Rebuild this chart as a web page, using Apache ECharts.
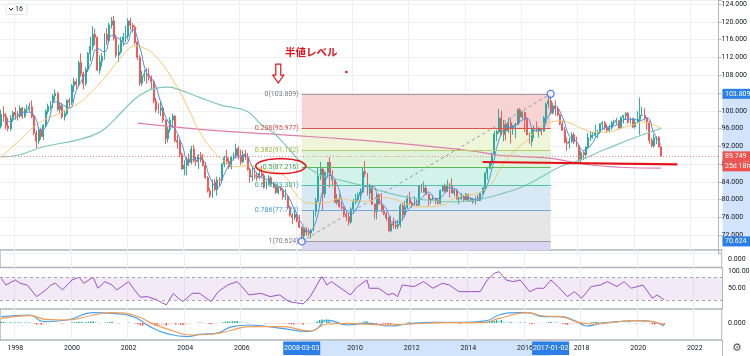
<!DOCTYPE html>
<html><head><meta charset="utf-8">
<script src="https://cdn.jsdelivr.net/npm/echarts@6/dist/echarts.min.js"></script>
<style>html,body{margin:0;padding:0;background:#fff}#c{width:750px;height:356px}</style>
</head><body><div id="c"></div>
<script>
// ---------------- DATA ----------------
// monthly categories Jul 1997 .. Dec 2022
const startYear = 1997, startMonth = 7, monthCount = 306;
const months = [];
for (let i = 0; i < monthCount; i++) {
  const m = startMonth - 1 + i, y = startYear + Math.floor(m / 12), mm = m % 12 + 1;
  months.push(y + '-' + (mm < 10 ? '0' : '') + mm);
}
// monthly OHLC [open, high, low, close], Jul 1997 .. Dec 2020
const ohlc = [
[96.5,100.2,96.0,99.2],[99.2,101.0,97.5,98.8],[98.8,99.5,95.8,96.6],[96.6,98.4,95.4,96.0],[96.0,99.0,95.5,98.3],[98.3,100.0,97.5,99.6],
[99.6,100.8,98.0,99.0],[99.0,99.9,97.8,98.8],[98.8,101.2,98.3,100.6],[100.6,100.9,98.2,98.7],[98.7,100.6,98.4,100.2],[100.2,101.4,99.5,100.4],[100.4,101.8,99.8,100.9],[100.9,102.3,98.3,98.7],[98.7,99.0,94.5,95.0],[95.0,95.6,91.6,93.2],[93.2,96.3,92.6,95.8],[95.8,96.2,93.5,94.2],
[94.2,97.0,93.4,96.7],[96.7,100.3,96.2,99.9],[99.9,101.6,99.2,101.0],[101.0,102.2,100.1,101.8],[101.8,103.8,100.6,103.3],[103.3,104.8,102.2,103.9],[103.9,104.2,99.9,100.3],[100.3,102.0,99.5,101.1],[101.1,101.8,98.2,98.6],[98.6,100.0,97.8,99.3],[99.3,102.6,99.0,102.3],[102.3,102.9,100.8,101.9],
[101.9,106.0,101.3,105.6],[105.6,107.4,104.2,106.6],[106.6,107.2,104.9,105.9],[105.9,111.3,105.4,110.8],[110.8,112.9,107.6,108.3],[108.3,108.8,104.8,106.1],[106.1,109.8,105.6,109.3],[109.3,113.2,108.7,112.9],[112.9,116.6,111.2,114.5],[114.5,119.0,113.6,117.2],[117.2,118.4,114.8,116.5],[116.5,116.7,108.9,109.1],
[109.1,112.5,108.2,111.1],[111.1,113.0,109.9,112.2],[112.2,117.5,111.5,117.2],[117.2,118.6,114.8,115.8],[115.8,119.8,115.2,119.3],[119.3,121.1,118.5,120.2],[120.2,121.3,115.8,116.3],[116.3,117.1,111.9,112.5],[112.5,114.8,111.0,113.2],[113.2,116.6,112.8,115.8],[115.8,117.5,114.6,116.6],[116.6,119.1,115.4,116.8],
[116.8,120.8,116.0,120.2],[120.2,120.9,118.2,119.2],[119.2,119.7,117.6,118.8],[118.8,119.2,114.9,115.4],[115.4,115.8,111.4,112.0],[112.0,112.5,105.6,106.2],[106.2,109.0,105.5,107.7],[107.7,109.2,106.7,108.2],[108.2,109.6,106.1,108.0],[108.0,109.5,106.8,107.6],[107.6,107.9,104.7,106.6],[106.6,107.0,101.7,102.2],
[102.2,102.9,99.6,100.2],[100.2,101.7,99.3,100.1],[100.1,102.2,98.8,100.6],[100.6,101.1,97.3,97.9],[97.9,98.1,92.5,93.7],[93.7,96.3,92.9,95.8],[95.8,98.6,95.1,97.9],[97.9,99.4,96.2,98.8],[98.8,99.0,92.9,93.3],[93.3,94.5,91.5,92.9],[92.9,93.5,89.6,90.2],[90.2,90.6,86.7,86.9],
[86.9,88.9,85.5,87.8],[87.8,89.6,85.5,89.1],[89.1,90.4,87.5,88.4],[88.4,92.1,87.9,91.4],[91.4,92.3,88.3,88.8],[88.8,89.7,87.6,88.6],[88.6,90.3,86.9,89.9],[89.9,90.7,88.4,89.0],[89.0,90.3,87.5,87.7],[87.7,88.5,84.7,85.0],[85.0,85.3,81.6,82.0],[82.0,82.6,80.4,80.9],
[80.9,84.5,80.4,84.0],[84.0,84.7,81.9,82.3],[82.3,85.2,80.9,84.5],[84.5,85.1,83.0,84.4],[84.4,88.2,83.7,88.0],[88.0,89.9,87.3,89.5],[89.5,91.2,87.9,88.6],[88.6,89.4,86.9,87.4],[87.4,89.9,86.8,89.6],[89.6,90.6,88.8,89.9],[89.9,92.6,89.3,91.5],[91.5,92.1,89.0,89.9],
[89.9,91.3,87.8,88.5],[88.5,91.1,88.2,90.2],[90.2,91.2,88.9,89.6],[89.6,90.5,86.5,86.8],[86.8,87.2,83.8,85.1],[85.1,87.4,84.1,85.4],[85.4,87.2,84.6,85.3],[85.3,86.2,84.2,85.0],[85.0,86.9,84.6,85.9],[85.9,87.6,85.0,85.4],[85.4,85.9,82.5,82.8],[82.8,84.3,82.3,83.7],
[83.7,85.5,83.2,84.9],[84.9,85.3,83.2,83.6],[83.6,84.0,82.6,82.9],[82.9,83.2,81.3,81.6],[81.6,82.9,81.2,82.7],[82.7,83.0,81.9,82.2],[82.2,82.6,80.0,80.7],[80.7,82.4,79.9,80.8],[80.8,81.0,77.9,78.2],[78.2,78.7,76.2,76.5],[76.5,77.0,74.5,76.0],[76.0,77.6,75.5,76.7],
[76.7,77.1,74.9,75.2],[75.2,76.6,73.7,73.8],[73.8,74.0,70.624,71.9],[71.9,73.7,71.3,73.3],[73.3,73.9,71.9,72.7],[72.7,73.5,71.9,72.5],[72.5,73.4,71.3,73.2],[73.2,77.7,72.9,77.3],[77.3,80.4,76.2,79.7],[79.7,87.2,79.5,85.3],[85.3,88.5,84.4,86.9],[86.9,87.3,77.7,81.3],
[81.3,86.4,80.4,86.1],[86.1,88.5,85.0,88.4],[88.4,89.6,82.7,85.4],[85.4,86.6,83.0,84.4],[84.4,84.6,79.2,79.4],[79.4,81.3,78.9,80.1],[80.1,81.2,78.3,78.4],[78.4,79.6,77.7,78.3],[78.3,78.5,76.1,76.7],[76.7,77.4,75.2,76.2],[76.2,76.8,74.2,75.0],[75.0,78.3,74.6,77.9],
[77.9,80.2,76.9,79.5],[79.5,81.3,78.9,80.1],[80.1,81.6,79.4,81.0],[81.0,82.6,80.0,81.7],[81.7,87.3,81.6,86.3],[86.3,88.7,85.1,85.9],[85.9,86.0,80.9,81.5],[81.5,83.6,80.1,83.0],[83.0,83.2,78.8,79.0],[79.0,79.2,75.6,77.3],[77.3,81.4,75.6,81.0],[81.0,81.4,78.9,79.0],
[79.0,81.4,77.2,77.4],[77.4,78.6,76.5,76.8],[76.8,77.3,75.3,75.9],[75.9,76.1,72.9,73.0],[73.0,76.4,72.7,74.6],[74.6,76.0,73.5,74.3],[74.3,75.4,73.4,74.0],[74.0,75.5,73.4,74.4],[74.4,79.1,73.8,78.6],[78.6,79.3,75.3,76.6],[76.6,79.8,76.2,78.3],[78.3,81.0,77.9,80.2],
[80.2,81.8,78.9,79.3],[79.3,79.6,78.1,78.8],[78.8,80.8,78.6,79.0],[79.0,80.0,78.5,78.8],[78.8,83.2,78.7,83.1],[83.1,83.6,81.6,81.7],[81.7,84.1,81.6,82.6],[82.6,83.1,81.1,81.2],[81.2,81.4,78.6,79.9],[79.9,80.3,79.1,80.1],[80.1,81.1,79.9,80.2],[80.2,80.5,79.0,79.8],
[79.8,80.4,78.9,79.2],[79.2,82.3,79.0,82.1],[82.1,83.2,81.7,83.0],[83.0,83.6,81.6,81.9],[81.9,84.5,81.7,83.3],[83.3,83.7,80.5,83.2],[83.2,84.8,81.4,81.5],[81.5,82.7,80.8,82.1],[82.1,82.5,80.0,80.2],[80.2,80.7,79.0,80.2],[80.2,81.5,80.0,80.7],[80.7,81.1,79.7,80.0],
[80.0,81.5,80.0,81.2],[81.2,81.4,79.7,79.7],[79.7,80.6,79.5,80.1],[80.1,80.4,79.1,79.5],[79.5,80.8,78.9,80.4],[80.4,81.1,79.7,79.8],[79.8,81.5,79.8,81.5],[81.5,82.8,81.3,82.7],[82.7,86.1,82.5,86.0],[86.0,87.4,84.5,87.0],[87.0,88.6,86.9,88.4],[88.4,90.6,87.8,90.3],
[90.3,95.5,90.2,94.8],[94.8,95.7,93.2,95.3],[95.3,100.4,94.9,98.4],[98.4,100.0,94.5,94.6],[94.6,97.9,93.1,96.9],[96.9,97.5,93.3,95.5],[95.5,98.3,95.0,97.3],[97.3,98.3,92.6,96.0],[96.0,96.8,94.6,96.4],[96.4,97.3,93.8,96.9],[96.9,100.5,96.8,100.2],[100.2,100.6,97.2,98.6],
[98.6,100.0,98.1,99.6],[99.6,99.8,95.2,98.2],[98.2,98.6,94.5,94.6],[94.6,95.1,92.6,93.1],[93.1,96.0,92.0,95.9],[95.9,96.7,93.8,96.1],[96.1,97.6,95.2,95.5],[95.5,96.3,94.0,95.9],[95.9,96.0,94.5,95.4],[95.4,98.8,95.3,98.4],[98.4,101.8,96.9,101.5],[101.5,103.6,100.6,102.2],
[102.2,103.809,99.2,99.5],[99.5,101.8,99.2,101.1],[101.1,102.3,98.9,100.4],[100.4,101.0,98.8,99.1],[99.1,99.4,96.8,97.0],[97.0,97.8,95.5,95.6],[95.6,96.3,92.7,92.9],[92.9,94.0,91.0,92.7],[92.7,93.9,91.5,93.1],[93.1,95.2,92.8,94.6],[94.6,95.1,92.5,93.0],[93.0,94.2,91.8,92.1],
[92.1,92.4,88.4,89.1],[89.1,91.0,88.25,90.6],[90.6,90.9,88.9,90.1],[90.1,92.0,89.2,91.8],[91.8,95.0,91.4,94.0],[94.0,95.5,93.2,94.5],[94.5,95.2,93.7,94.5],[94.5,96.9,94.1,95.1],[95.1,95.7,93.8,95.1],[95.1,97.2,94.8,97.1],[97.1,97.7,95.7,97.3],[97.3,97.7,95.7,96.2],
[96.2,96.9,95.0,95.6],[95.6,96.9,95.2,96.2],[96.2,97.7,95.7,97.3],[97.3,98.0,96.7,97.5],[97.5,98.4,96.9,97.8],[97.8,97.9,95.8,96.1],[96.1,98.7,95.9,98.5],[98.5,99.1,97.1,98.9],[98.9,99.7,97.9,99.4],[99.4,99.7,97.1,97.4],[97.4,98.5,97.0,98.3],[98.3,98.4,96.1,96.4],
[96.4,98.2,96.0,97.4],[97.4,99.9,97.3,98.1],[98.1,103.0,94.6,99.0],[99.0,100.9,98.8,99.0],[99.0,100.6,97.8,98.3],[98.3,98.6,95.7,97.4],[97.4,97.8,92.6,93.3],[93.3,93.9,91.8,92.1],[92.1,94.7,91.7,93.9],[93.9,94.3,92.5,94.0],[94.0,94.3,91.7,91.9],[91.9,92.0,89.6,89.749]
];
// short moving average (blue), quarterly readings from Sep 1997
const maBlueStart = '1997-09', maBlueStep = 3;
const maBlue = [97.5,97.9, 99.3,99.7,99.0,95.4, 97.5,102.0,101.4,100.6, 104.5,107.5,110.2,114.0, 113.2,116.9,116.3,115.0, 118.3,114.3,108.4,106.5, 101.9,97.6,95.9,92.4, 88.5,89.3,88.8,84.9, 82.7,85.7,88.6,89.7, 89.9,87.4,85.3,84.6, 83.6,82.6,80.9,77.6, 74.7,72.8,75.1,82.1, 85.6,83.5,78.6,76.8, 78.7,83.0,83.1,79.9, 78.0,74.9,75.2,77.6, 79.1,80.3,81.7,80.2, 80.9,82.7,82.1,80.6, 80.3,79.9,82.1,86.9, 93.4,96.1,96.4,97.6, 98.2,95.6,95.8,98.7, 100.9,98.6,94.3,93.1, 91.0,92.2,94.6,96.2, 96.5,97.0,98.1,98.1, 97.8,98.4,95.0,92.3];
// medium MA (yellow)
const maYellow = [['1997-07',89.6],['1998-03',93.4],['1998-11',97.2],['1999-08',99.5],['2000-04',101.7],['2000-08',103.5],['2001-01',106.2],['2001-05',108.7],['2001-09',111.4],['2002-01',113.7],['2002-04',114.6],['2002-07',114.3],['2003-01',112.1],['2003-09',106.2],['2004-03',100.2],['2004-07',95.7],['2005-01',91.2],['2005-07',88.3],['2005-12',87.4],['2006-04',87.8],['2006-07',87.4],['2007-02',86.3],['2007-07',85.6],['2008-01',81.0],['2008-07',79.2],['2009-01',79.3],['2009-07',80.2],['2010-01',79.8],['2010-07',79.6],['2011-01',80.5],['2011-07',80.0],['2012-01',78.8],['2012-07',78.4],['2013-03',78.8],['2013-08',80.4],['2014-03',81.1],['2014-07',81.7],['2014-12',83.8],['2015-04',87.4],['2015-10',91.2],['2016-03',93.4],['2016-07',95.7],['2017-01',97.5],['2017-05',97.7],['2017-09',97.3],['2018-02',96.1],['2018-08',95.2],['2019-01',95.2],['2019-07',96.1],['2019-12',96.8],['2020-05',97.5],['2020-09',96.8],['2020-12',96.1]];
// long MA (green)
const maGreen = [['1997-07',89.6],['1998-02',90.0],['1999-01',91.9],['2000-03',93.4],['2001-01',95.2],['2001-07',97.9],['2002-02',101.7],['2002-07',103.8],['2003-01',105.1],['2003-06',105.3],['2003-11',104.7],['2004-08',102.9],['2005-05',101.2],['2005-09',100.8],['2006-04',99.8],['2006-10',96.8],['2007-03',95.0],['2007-07',92.9],['2008-03',88.3],['2008-10',85.8],['2009-02',85.1],['2010-04',83.3],['2011-07',81.1],['2012-07',80.0],['2013-08',79.5],['2014-05',79.9],['2015-05',81.5],['2016-01',82.9],['2016-09',85.1],['2017-05',87.4],['2018-01',88.8],['2019-01',91.5],['2020-01',94.0],['2020-12',96.0]];
// very long MA (pink)
const maPink = [['2002-05',97.2],['2004-02',96.1],['2005-12',95.2],['2007-07',94.6],['2008-09',94.1],['2011-01',93.0],['2013-05',91.6],['2014-07',90.7],['2015-03',90.0],['2016-01',89.7],['2017-01',89.3],['2017-09',88.6],['2018-06',87.8],['2019-06',87.3],['2020-12',87.1]];
// RSI
const rsi = [['1997-07',68.3],['1997-09',56.5],['1998-01',65.3],['1998-03',59.5],['1998-06',56.5],['1998-10',35.9],['1998-12',41.8],['1999-02',47.7],['1999-04',56.5],['1999-06',59.5],['1999-09',47.7],['1999-11',56.5],['2000-01',65.3],['2000-04',70.1],['2000-06',59.5],['2000-10',70.1],['2000-12',50.7],['2001-03',62.4],['2001-06',56.5],['2001-08',47.7],['2002-01',62.4],['2002-03',50.7],['2002-06',34.8],['2002-09',35.9],['2003-01',30.1],['2003-05',21.3],['2003-08',41.8],['2003-10',33.1],['2003-12',27.1],['2004-04',41.8],['2004-07',41.8],['2004-12',27.1],['2005-03',44.7],['2005-07',56.5],['2005-11',62.4],['2006-01',53.6],['2006-04',38.9],['2006-09',41.8],['2007-01',35.9],['2007-05',38.9],['2007-09',27.1],['2008-03',23.0],['2008-06',35.9],['2008-10',65.3],['2008-11',71.2],['2009-01',56.5],['2009-03',62.4],['2009-07',50.7],['2009-11',38.9],['2010-02',53.6],['2010-06',65.3],['2010-07',50.7],['2010-11',50.7],['2011-03',38.9],['2011-05',41.8],['2011-07',35.9],['2011-09',56.5],['2012-02',53.6],['2012-06',62.4],['2012-10',50.7],['2013-02',59.5],['2013-05',56.5],['2013-09',44.7],['2014-02',44.7],['2014-06',44.7],['2014-09',65.3],['2014-12',77.1],['2015-02',80.0],['2015-05',65.3],['2015-08',62.4],['2015-11',65.3],['2016-03',44.7],['2016-06',50.7],['2016-09',50.7],['2016-12',65.3],['2017-03',53.6],['2017-07',35.9],['2017-10',44.7],['2018-01',33.1],['2018-05',53.6],['2018-09',56.5],['2018-12',62.4],['2019-04',53.6],['2019-07',62.4],['2019-10',50.7],['2020-03',56.5],['2020-07',33.1],['2020-09',38.9],['2020-12',30.1]];
const rsiBand = [30, 70];
// MACD
const macdLine = [['1997-07',3.2],['1998-07',4.0],['1999-01',0.7],['1999-11',1.5],['2000-10',5.2],['2001-06',4.8],['2002-03',3.2],['2002-10',-1.8],['2003-05',-5.2],['2004-02',-6.8],['2004-07',-5.7],['2005-02',-5.2],['2005-09',-1.8],['2006-04',-1.0],['2007-06',-2.7],['2008-05',-4.3],['2008-09',-2.7],['2009-01',1.5],['2009-10',-1.0],['2010-06',-0.2],['2011-04',-1.5],['2011-11',-0.5],['2012-10',0.3],['2013-12',0.3],['2014-09',1.2],['2015-02',4.0],['2015-10',5.2],['2016-02',5.2],['2016-09',3.2],['2017-04',3.2],['2017-11',0.7],['2018-03',-1.5],['2018-09',-0.2],['2019-04',0.7],['2020-02',1.2],['2020-07',0.7],['2020-12',-1.5]];
const signalLine = [['1997-07',2.3],['1998-07',3.7],['1999-02',1.8],['1999-11',1.5],['2000-10',4.0],['2001-06',5.2],['2002-03',4.0],['2002-11',-0.2],['2003-08',-4.0],['2004-03',-6.0],['2005-01',-5.5],['2005-09',-3.5],['2006-04',-1.8],['2007-06',-1.8],['2008-06',-4.0],['2009-01',-0.5],['2009-10',-0.2],['2011-01',-1.0],['2011-12',-0.5],['2013-05',0.2],['2014-07',0.2],['2015-02',2.3],['2016-02',5.2],['2016-09',3.5],['2017-04',3.2],['2017-12',0.2],['2018-06',-0.5],['2019-01',0.2],['2019-11',1.2],['2020-07',0.7],['2020-12',-1.0]];
const macdHist = [
0.6,0.6,0.5,0.4,0.4,0.3,
0.3,0.3,0.4,0.3,0.3,0.3,0.3,0.1,-0.4,-0.8,-0.8,-0.9,
-0.9,-0.7,-0.5,-0.3,-0.1,0.1,-0.1,-0.1,-0.3,-0.3,-0.1,0.0,
0.2,0.4,0.4,0.6,0.6,0.4,0.4,0.6,0.7,0.9,0.8,0.2,
-0.2,0.0,0.3,0.3,0.5,0.6,0.3,-0.1,-0.3,-0.2,-0.1,0.0,
0.2,0.1,0.0,-0.3,-0.6,-1.2,-1.3,-1.3,-1.2,-1.1,-1.1,-1.3,
-1.4,-1.3,-1.1,-1.1,-1.3,-1.1,-0.8,-0.6,-0.8,-0.8,-0.9,-1.1,
-0.9,-0.6,-0.4,-0.1,0.0,0.1,0.2,0.2,0.1,-0.1,-0.4,-0.6,
-0.4,-0.4,-0.2,0.0,0.4,0.7,0.8,0.8,0.9,0.9,1.0,0.9,
0.7,0.6,0.5,0.2,0.0,-0.1,-0.1,-0.1,0.0,0.0,-0.3,-0.3,
-0.2,-0.2,-0.2,-0.3,-0.2,-0.2,-0.3,-0.3,-0.5,-0.7,-0.8,-0.7,
-0.7,-0.7,-0.8,-0.5,-0.4,-0.3,-0.2,0.3,0.8,1.5,1.8,1.4,
1.4,1.4,1.0,0.6,0.0,-0.3,-0.6,-0.7,-0.8,-0.8,-0.8,-0.5,
-0.2,0.0,0.2,0.3,0.8,0.9,0.4,0.3,-0.2,-0.5,-0.2,-0.3,
-0.4,-0.5,-0.6,-0.8,-0.6,-0.5,-0.4,-0.3,0.1,0.0,0.2,0.4,
0.3,0.2,0.2,0.1,0.4,0.3,0.3,0.2,-0.1,-0.1,-0.1,-0.2,
-0.2,0.0,0.2,0.1,0.2,0.2,0.0,0.0,-0.2,-0.3,-0.2,-0.2,
-0.1,-0.2,-0.2,-0.2,-0.1,-0.1,0.1,0.3,0.6,0.8,1.0,1.1,
1.4,1.3,1.5,0.9,0.8,0.5,0.5,0.3,0.2,0.1,0.4,0.2,
0.2,0.0,-0.4,-0.6,-0.4,-0.3,-0.3,-0.2,-0.2,0.1,0.4,0.6,
0.3,0.3,0.1,-0.1,-0.4,-0.6,-0.9,-0.9,-0.8,-0.5,-0.5,-0.5,
-0.7,-0.4,-0.3,0.0,0.4,0.5,0.5,0.5,0.4,0.5,0.4,0.2,
0.0,0.0,0.1,0.1,0.1,-0.1,0.1,0.1,0.2,-0.1,-0.1,-0.3,
-0.2,-0.1,0.1,0.1,0.0,-0.2,-0.6,-0.7,-0.5,-0.4,-0.5,-0.7];
// Fibonacci retracement drawn from the 2008 low to the 2017 high
const fibRatios = ['0','0.236','0.382','0.5','0.618','0.786','1'];
const fibValues = [103.809,95.977,91.132,87.216,83.301,77.725,70.624];
const fibStart = '2008-03', fibEnd = '2017-01';
const fibStartLabel = '2008-03-03', fibEndLabel = '2017-01-02';
const lastPrice = 89.749, countdown = '25d 18h';
const supportLine = [['2014-08',88.48],['2021-07',87.96]];
const noteText = '半値レベル';
const noteAt = ['2008-07',113.2], arrowAt = ['2007-05',110.5], dotAt = ['2009-10',108.7];
const paneCount = '16';

// ---------------- STYLE ----------------
const FONT = 'Roboto, "Noto Sans", sans-serif';
const gridLine = '#eef0f4', axisColor = '#b2b5be', textColor = '#131722';
const upC = '#26a69a', downC = '#ef5350';
const fibLineColors = ['#9e9e9e','#d9534f','#b5cf6b','#5cb85c','#4fc3a1','#6fa8dc','#9e9e9e'];
const fibLabelColors = ['#787b86','#e04b4b','#9cba3c','#43a047','#26a69a','#3d9be9','#787b86'];
const fibBandColors = ['#f7d3d3','#eef5d8','#dff2dc','#d3f2ea','#d8e9f5','#e6e6e6'];
const fibBelowColor = '#dad5f3';
const blueBox = '#2b7fe6', lightBlue = '#d2e4fb', red = '#e3141c';

const chart = echarts.init(document.getElementById('c'));
const isTickMonth = (i, v) => /-01$/.test(v) && (+v.slice(0, 4)) % 2 === 0;
function xAx(i, showLabel) {
  return {type:'category', gridIndex:i, data:months, boundaryGap:true,
    axisLine:{show:false}, axisTick:{show:false},
    axisLabel:{show:showLabel, interval:isTickMonth, formatter:v => v.slice(0, 4), fontSize:7, color:textColor, margin:5, fontFamily:FONT},
    splitLine:{show:true, interval:isTickMonth, lineStyle:{color:gridLine, width:1}}};
}
const blueData = maBlue.map((v, k) => [months[months.indexOf(maBlueStart) + k * maBlueStep], v]);
const candleData = ohlc.map(d => [d[0], d[3], d[2], d[1]]);
const histData = macdHist.map((v, i) => {
  const p = i > 0 ? macdHist[i - 1] : v;
  const c = v >= 0 ? (v >= p ? upC : '#b2dfdb') : (v < p ? downC : '#ffcdd2');
  return {value:v, itemStyle:{color:c}};
});
const fibAreas = [];
for (let i = 0; i < fibValues.length - 1; i++)
  fibAreas.push([{coord:[fibStart, fibValues[i]], itemStyle:{color:fibBandColors[i]}}, {coord:[fibEnd, fibValues[i + 1]]}]);
fibAreas.push([{coord:[fibStart, fibValues[fibValues.length - 1]], itemStyle:{color:fibBelowColor}}, {coord:[fibEnd, 68.7]}]);
const fibLines = fibValues.map((v, i) => [{coord:[fibStart, v], lineStyle:{color:fibLineColors[i], width:1.2, type:'solid'}}, {coord:[fibEnd, v]}]);
const lbl = {fontSize:7, color:textColor, fontFamily:FONT};

const option = {
  animation:false,
  grid:[
    {left:0, right:28, top:0, height:253.1},
    {left:0, right:28, top:250, height:17.5, show:true, borderColor:axisColor, borderWidth:1.5},
    {left:0, right:28, top:267.5, height:41.5},
    {left:0, right:28, top:309, height:31, show:true, borderColor:axisColor, borderWidth:1.5}
  ],
  xAxis:[xAx(0,false), xAx(1,false), xAx(2,false), xAx(3,true)],
  yAxis:[
    {type:'value', gridIndex:0, position:'right', min:68, max:124.9, interval:4,
      axisLine:{show:true, lineStyle:{color:axisColor}}, axisTick:{show:true, length:3, lineStyle:{color:axisColor}},
      axisLabel:Object.assign({margin:3, formatter:v => (Math.abs(v / 4 - Math.round(v / 4)) < 1e-6 && v >= 72) ? v.toFixed(3) : ''}, lbl),
      splitLine:{show:true, lineStyle:{color:gridLine}}},
    {type:'value', gridIndex:1, position:'right', min:-1, max:1, interval:1,
      axisLine:{show:false}, axisTick:{show:false}, splitLine:{show:false},
      axisLabel:Object.assign({margin:6, formatter:v => Math.abs(v) < 1e-9 ? '0.000' : ''}, lbl)},
    {type:'value', gridIndex:2, position:'right', min:14, max:87.4, interval:2,
      axisLine:{show:true, lineStyle:{color:axisColor}}, axisTick:{show:false}, splitLine:{show:false},
      axisLabel:Object.assign({margin:6, formatter:v => Math.abs(v - 50) < 1e-9 ? '50.00' : ''}, lbl)},
    {type:'value', gridIndex:3, position:'right', min:-8.5, max:7, interval:8.5,
      axisLine:{show:false}, axisTick:{show:false}, splitLine:{show:false},
      axisLabel:Object.assign({margin:6, formatter:v => Math.abs(v) < 1e-9 ? '0.000' : ''}, lbl)}
  ],
  series:[
    {type:'line', name:'fib', xAxisIndex:0, yAxisIndex:0, z:1,
      data:[[fibStart, fibValues[6]], [fibEnd, fibValues[0]]], showSymbol:false, silent:true,
      lineStyle:{color:'#9598a1', width:1, type:[3,3]},
      markArea:{silent:true, data:fibAreas},
      markLine:{silent:true, symbol:['none','none'], label:{show:false}, data:fibLines}},
    {type:'candlestick', xAxisIndex:0, yAxisIndex:0, z:3, data:candleData, barWidth:'62%',
      itemStyle:{color:upC, color0:downC, borderColor:upC, borderColor0:downC, borderWidth:1, opacity:0.92},
      markLine:{silent:true, symbol:['none','none'], label:{show:false},
        lineStyle:{color:'#f28b8f', type:[1,2], width:1}, data:[{yAxis:lastPrice}]}},
    {type:'line', xAxisIndex:0, yAxisIndex:0, z:4, data:maPink, smooth:true, showSymbol:false, lineStyle:{color:'#dd7fae', width:1.2}},
    {type:'line', xAxisIndex:0, yAxisIndex:0, z:4, data:maGreen, smooth:true, showSymbol:false, lineStyle:{color:'#7fc9b5', width:1.2}},
    {type:'line', xAxisIndex:0, yAxisIndex:0, z:4, data:maYellow, smooth:true, showSymbol:false, lineStyle:{color:'#f4c76c', width:1}},
    {type:'line', xAxisIndex:0, yAxisIndex:0, z:4, data:blueData, smooth:true, showSymbol:false, lineStyle:{color:'#4f8fe0', width:1}},
    {type:'line', xAxisIndex:0, yAxisIndex:0, z:5, data:supportLine, showSymbol:false, lineStyle:{color:red, width:2.2}},
    {type:'scatter', xAxisIndex:0, yAxisIndex:0, z:6, data:[[fibStart, fibValues[6]], [fibEnd, fibValues[0]]],
      symbol:'circle', symbolSize:7, itemStyle:{color:'#fff', borderColor:'#2962ff', borderWidth:1.3}},
    {type:'line', xAxisIndex:2, yAxisIndex:2, data:rsi, showSymbol:false, lineStyle:{color:'#9c4fc8', width:1},
      markArea:{silent:true, itemStyle:{color:'rgba(156,79,200,0.12)'}, data:[[{yAxis:rsiBand[0]}, {yAxis:rsiBand[1]}]]},
      markLine:{silent:true, symbol:['none','none'], label:{show:false}, lineStyle:{color:'#a3a6af', type:[3,3], width:1},
        data:[{yAxis:rsiBand[0]}, {yAxis:rsiBand[1]}]}},
    {type:'bar', xAxisIndex:3, yAxisIndex:3, data:histData, barWidth:'62%'},
    {type:'line', xAxisIndex:3, yAxisIndex:3, data:macdLine, smooth:true, showSymbol:false, lineStyle:{color:'#4aa3f0', width:1.2}},
    {type:'line', xAxisIndex:3, yAxisIndex:3, data:signalLine, smooth:true, showSymbol:false, lineStyle:{color:'#f39c55', width:1.2}}
  ]
};
chart.setOption(option);

// ---------------- ANNOTATIONS (positioned through the chart's scales) ----------------
const P = (c, v) => chart.convertToPixel({xAxisIndex:0, yAxisIndex:0}, [c, v]);
const W = chart.getWidth(), H = chart.getHeight();
const axisX = W - 28;
const els = [];
const xs = P(fibStart, fibValues[0])[0], xe = P(fibEnd, fibValues[0])[0];
const yTop = P(fibEnd, fibValues[0])[1], yBot = P(fibStart, fibValues[6])[1];
// highlighted ranges on the axes
els.push({type:'rect', z:-1, shape:{x:axisX + 0.5, y:yTop, width:W - axisX, height:yBot - yTop}, style:{fill:lightBlue}});
els.push({type:'rect', z:-1, shape:{x:xs, y:341, width:xe - xs, height:H - 341}, style:{fill:lightBlue}});
// fib labels
fibValues.forEach((v, i) => {
  const p = P(fibStart, v);
  els.push({type:'text', z:20, x:p[0] - 3, y:p[1], style:{text:fibRatios[i] + '(' + v.toFixed(3) + ')', fill:fibLabelColors[i], fontSize:7, fontFamily:FONT, align:'right', verticalAlign:'middle'}});
});
// ellipse around the 0.5 level label
{
  const p = P(fibStart, fibValues[3]);
  const cx = p[0] - 21, cy = p[1] - 1.5, rx = 25, ry = 7.5, pts = [];
  for (let k = 0; k < 48; k++) { const a = k / 48 * Math.PI * 2; pts.push([cx + rx * Math.cos(a), cy + ry * Math.sin(a)]); }
  els.push({type:'polygon', z:21, shape:{points:pts}, style:{fill:null, stroke:red, lineWidth:1.5}});
}
// note text, arrow, dot
{
  const n = P(noteAt[0], noteAt[1]);
  els.push({type:'text', z:21, x:n[0], y:n[1], style:{text:noteText, fill:red, fontSize:10.5, fontWeight:'bold', fontFamily:'"Noto Sans CJK JP", sans-serif', align:'center', verticalAlign:'middle'}});
  const a = P(arrowAt[0], arrowAt[1]), cx = a[0], y0 = a[1];
  els.push({type:'polygon', z:21, shape:{points:[[cx - 2.5, y0], [cx + 2.5, y0], [cx + 2.5, y0 + 11], [cx + 5.5, y0 + 11], [cx, y0 + 19], [cx - 5.5, y0 + 11], [cx - 2.5, y0 + 11]]}, style:{fill:'#fff', stroke:red, lineWidth:1.2}});
  const d = P(dotAt[0], dotAt[1]);
  els.push({type:'circle', z:21, shape:{cx:d[0], cy:d[1], r:1.3}, style:{fill:red}});
}
// axis value boxes
function axisBox(y, text, color) {
  els.push({type:'rect', z:30, shape:{x:axisX + 0.5, y:y - 5, width:W - axisX, height:10}, style:{fill:color}});
  els.push({type:'text', z:31, x:axisX + 3, y:y, style:{text:text, fill:'#fff', fontSize:7, fontFamily:FONT, verticalAlign:'middle'}});
}
axisBox(yTop, fibValues[0].toFixed(3), blueBox);
axisBox(yBot, fibValues[6].toFixed(3), blueBox);
const yLast = P(fibStart, lastPrice)[1];
axisBox(yLast, lastPrice.toFixed(3), downC);
axisBox(yLast + 10, countdown, downC);
function dateBox(x, text) {
  els.push({type:'rect', z:30, shape:{x:x - 18.5, y:341.5, width:37, height:13.5}, style:{fill:blueBox}});
  els.push({type:'text', z:31, x:x, y:348.3, style:{text:text, fill:'#fff', fontSize:7, fontFamily:FONT, align:'center', verticalAlign:'middle'}});
}
dateBox(xs, fibStartLabel);
dateBox(xe, fibEndLabel);
// RSI top label, pane widget, settings gear, right edge
els.push({type:'text', z:5, x:axisX + 6, y:271.5, style:{text:'100.00', fill:textColor, fontSize:7, fontFamily:FONT, verticalAlign:'middle'}});
els.push({type:'line', z:5, shape:{x1:axisX + 0.5, y1:340, x2:axisX + 0.5, y2:H}, style:{stroke:axisColor, lineWidth:1}});
els.push({type:'text', z:5, x:axisX + 15, y:348.5, style:{text:'⚙', fill:'#50535e', fontSize:11, fontFamily:'"DejaVu Sans", sans-serif', align:'center', verticalAlign:'middle'}});
els.push({type:'rect', z:40, shape:{x:6, y:4, width:21, height:10.5, r:2}, style:{fill:'#fff', stroke:'#e0e3eb', lineWidth:1}});
els.push({type:'polyline', z:41, shape:{points:[[9, 8], [11, 10.2], [13, 8]]}, style:{stroke:'#131722', lineWidth:1, fill:null}});
els.push({type:'text', z:41, x:15, y:9.4, style:{text:paneCount, fill:textColor, fontSize:7, fontFamily:FONT, verticalAlign:'middle'}});
chart.setOption({graphic:{elements:els}});
</script>
</body></html>
